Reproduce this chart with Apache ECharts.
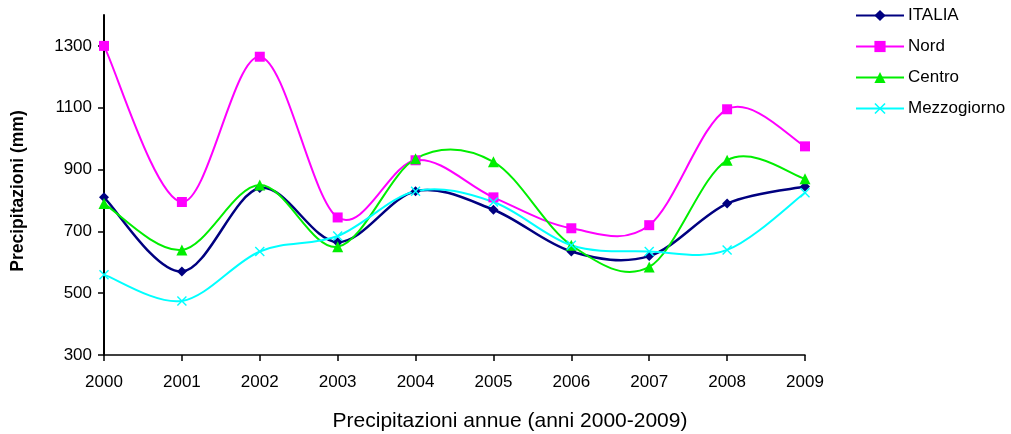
<!DOCTYPE html>
<html>
<head>
<meta charset="utf-8">
<script src="https://cdn.jsdelivr.net/npm/echarts@6/dist/echarts.min.js"></script>
<style>
  html, body { margin: 0; padding: 0; background: #fff; }
  #chart { width: 1011px; height: 434px; }
</style>
</head>
<body>
<div id="chart"></div>
<script>
// Annual rainfall (mm), 2000-2009
const years = ['2000', '2001', '2002', '2003', '2004', '2005', '2006', '2007', '2008', '2009'];
const italia = [810, 570, 840, 665, 830, 770, 635, 620, 790, 845];
const nord = [1300, 795, 1265, 745, 930, 810, 710, 720, 1095, 975];
const centro = [790, 640, 850, 650, 935, 925, 655, 585, 930, 870];
const mezzogiorno = [560, 475, 635, 685, 830, 795, 655, 635, 640, 825];
const yTicks = [300, 500, 700, 900, 1100, 1300];

const FONT = '"Liberation Sans", Arial, sans-serif';
const crossPath = 'path://M0,1L1,0L5,4L9,0L10,1L6,5L10,9L9,10L5,6L1,10L0,9L4,5Z';

// Catmull-Rom style smoothed curve: one cubic segment per pair of points,
// positioned with the chart's own coordinate system.
function curveSeries(values, color, width) {
  const n = values.length;
  return {
    type: 'custom',
    name: '_curve',
    silent: true,
    data: values.map((v, i) => [i, v]),
    encode: { x: 0, y: 1 },
    renderItem: function (params, api) {
      const i = params.dataIndexInside;
      if (i >= n - 1) return null;
      const pt = k => {
        const j = Math.max(0, Math.min(n - 1, k));
        return api.coord([j, values[j]]);
      };
      const p0 = pt(i - 1), p1 = pt(i), p2 = pt(i + 1), p3 = pt(i + 2);
      const t = 1 / 6;
      const c1 = [p1[0] + (p2[0] - p0[0]) * t, p1[1] + (p2[1] - p0[1]) * t];
      const c2 = [p2[0] - (p3[0] - p1[0]) * t, p2[1] - (p3[1] - p1[1]) * t];
      return {
        type: 'bezierCurve',
        shape: { x1: p1[0], y1: p1[1], x2: p2[0], y2: p2[1], cpx1: c1[0], cpy1: c1[1], cpx2: c2[0], cpy2: c2[1] },
        style: { stroke: color, lineWidth: width, fill: null }
      };
    }
  };
}

function markerSeries(name, data, color, symbol, size) {
  return {
    name: name,
    type: 'line',
    data: data,
    symbol: symbol,
    symbolSize: size,
    showAllSymbol: true,
    lineStyle: { color: color, width: 2, opacity: 0 },
    itemStyle: { color: color },
    emphasis: { disabled: true }
  };
}

const colors = { ITALIA: '#000080', Nord: '#ff00ff', Centro: '#00ee00', Mezzogiorno: '#00ffff' };

const chart = echarts.init(document.getElementById('chart'), null, { renderer: 'canvas' });
chart.setOption({
  animation: false,
  textStyle: { fontFamily: FONT },
  grid: { left: 104, right: 206, top: 15, bottom: 79, containLabel: false },
  legend: {
    orient: 'vertical',
    left: 855,
    top: 7,
    padding: 0,
    itemWidth: 48,
    itemHeight: 14,
    itemGap: 14,
    textStyle: { fontFamily: FONT, fontSize: 17, color: '#000', padding: [0, 0, 0, -1] },
    data: Object.keys(colors).map(k => ({
      name: k,
      lineStyle: { color: colors[k], width: 2, opacity: 1 }
    }))
  },
  xAxis: {
    type: 'category',
    data: years,
    boundaryGap: false,
    axisLine: { lineStyle: { color: '#000', width: 1.5 } },
    axisTick: { show: true, alignWithLabel: true, length: 6, inside: false, lineStyle: { color: '#000', width: 1.5 } },
    axisLabel: { color: '#000', fontSize: 17, fontFamily: FONT, margin: 19 },
    splitLine: { show: false }
  },
  yAxis: {
    type: 'value',
    min: 300,
    max: 1400,
    interval: 200,
    axisLine: { show: true, lineStyle: { color: '#000', width: 2 } },
    axisTick: { show: true, length: 6, customValues: yTicks, lineStyle: { color: '#000', width: 1.5 } },
    axisLabel: { color: '#000', fontSize: 17, fontFamily: FONT, margin: 12, customValues: yTicks, formatter: v => String(v) },
    splitLine: { show: false }
  },
  graphic: [
    {
      type: 'text',
      style: {
        text: 'Precipitazioni (mm)',
        font: 'bold 17.5px ' + FONT,
        fill: '#000',
        textAlign: 'center',
        textVerticalAlign: 'middle'
      },
      x: 18,
      y: 191,
      rotation: Math.PI / 2
    },
    {
      type: 'text',
      style: {
        text: 'Precipitazioni annue (anni 2000-2009)',
        font: '21px ' + FONT,
        fill: '#000',
        textAlign: 'center',
        textVerticalAlign: 'middle'
      },
      x: 510,
      y: 421
    }
  ],
  series: [
    curveSeries(italia, colors.ITALIA, 2.5),
    curveSeries(nord, colors.Nord, 2),
    curveSeries(centro, colors.Centro, 2),
    curveSeries(mezzogiorno, colors.Mezzogiorno, 2),
    markerSeries('ITALIA', italia, colors.ITALIA, 'diamond', 10),
    markerSeries('Nord', nord, colors.Nord, 'rect', 10),
    markerSeries('Centro', centro, colors.Centro, 'triangle', 11),
    markerSeries('Mezzogiorno', mezzogiorno, colors.Mezzogiorno, crossPath, 10)
  ]
});
</script>
</body>
</html>
